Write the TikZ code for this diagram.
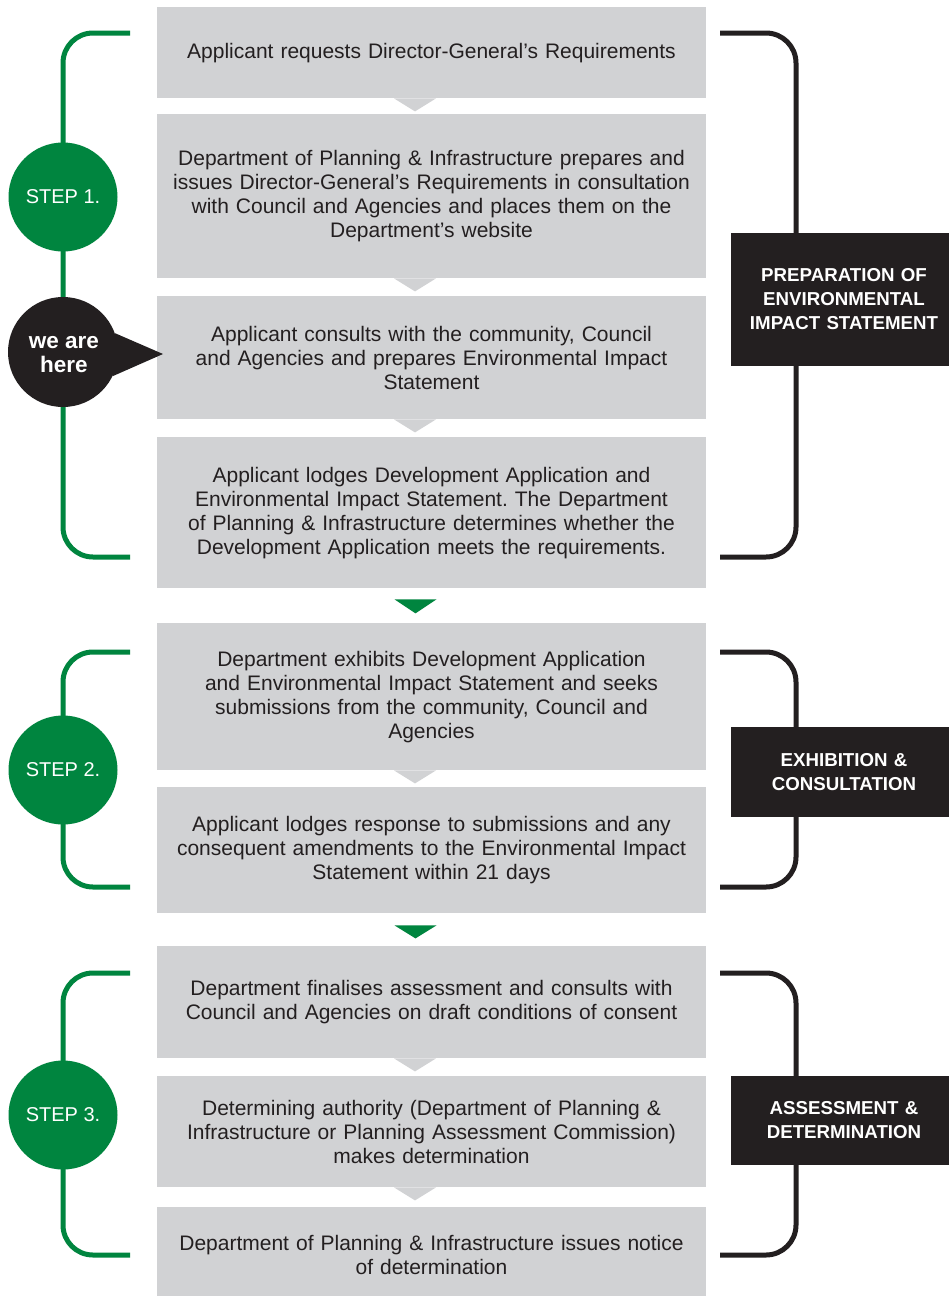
\documentclass[tikz,border=0pt]{standalone}
\usepackage{fontspec}
\setmainfont{Liberation Sans}
\frenchspacing
\usetikzlibrary{calc}
\definecolor{boxgray}{HTML}{D1D2D4}
\definecolor{stepgreen}{HTML}{00853F}
\definecolor{inkdark}{HTML}{231F20}
\tikzset{
  box/.style={fill=boxgray, anchor=north, minimum width=549pt, text width=545pt, align=center,
    inner sep=0pt, text=inkdark, font=\fontsize{21}{24}\selectfont},
  stagebox/.style={fill=inkdark, minimum width=226pt, text width=218pt, align=center,
    inner sep=0pt, text=white, font=\fontsize{18.7}{24}\selectfont\bfseries},
  stepcircle/.style={circle, fill=stepgreen, minimum size=109pt, inner sep=0pt, text=white,
    font=\fontsize{20}{22}\selectfont},
  greenbracket/.style={draw=stepgreen, line width=5pt, rounded corners=30pt},
  darkbracket/.style={draw=inkdark, line width=5pt, rounded corners=30pt},
  notch/.style={fill=boxgray},
  greentri/.style={fill=stepgreen},
}
\begin{document}
\begin{tikzpicture}[x=1pt,y=-1pt]
\clip (0,0) rectangle (949,1296);
\fill[white] (0,0) rectangle (949,1296);

% brackets
\coordinate (g1a) at (130,33);  \coordinate (g1b) at (130,557);
\coordinate (g2a) at (130,652); \coordinate (g2b) at (130,887);
\coordinate (g3a) at (130,973); \coordinate (g3b) at (130,1255);
\draw[greenbracket] (g1a) -| ($(g1b)+(-67,0)$) -- (g1b);
\draw[greenbracket] (g2a) -| ($(g2b)+(-67,0)$) -- (g2b);
\draw[greenbracket] (g3a) -| ($(g3b)+(-67,0)$) -- (g3b);
\coordinate (r1a) at (720,33);  \coordinate (r1b) at (720,557);
\coordinate (r2a) at (720,652); \coordinate (r2b) at (720,887);
\coordinate (r3a) at (720,973); \coordinate (r3b) at (720,1255);
\draw[darkbracket] (r1a) -| ($(r1b)+(76,0)$) -- (r1b);
\draw[darkbracket] (r2a) -| ($(r2b)+(76,0)$) -- (r2b);
\draw[darkbracket] (r3a) -| ($(r3b)+(76,0)$) -- (r3b);

% boxes
\node[box, minimum height=91pt] (b1) at (431.5,7) {Applicant requests Director-General’s Requirements};
\node[box, minimum height=164pt] (b2) at (431.5,114) {Department of Planning \& Infrastructure prepares and\\ issues Director-General’s Requirements in consultation\\ with Council and Agencies and places them on the\\ Department’s website};
\node[box, minimum height=123pt] (b3) at (431.5,296) {Applicant consults with the community, Council\\ and Agencies and prepares Environmental Impact\\ Statement};
\node[box, minimum height=151pt] (b4) at (431.5,437) {Applicant lodges Development Application and\\ Environmental Impact Statement. The Department\\ of Planning \& Infrastructure determines whether the\\ Development Application meets the requirements.};
\node[box, minimum height=147pt] (b5) at (431.5,623) {Department exhibits Development Application\\ and Environmental Impact Statement and seeks\\ submissions from the community, Council and\\ Agencies};
\node[box, minimum height=126pt] (b6) at (431.5,787) {Applicant lodges response to submissions and any\\ consequent amendments to the Environmental Impact\\ Statement within 21 days};
\node[box, minimum height=112pt] (b7) at (431.5,946) {Department finalises assessment and consults with\\ Council and Agencies on draft conditions of consent};
\node[box, minimum height=111pt] (b8) at (431.5,1076) {Determining authority (Department of Planning \&\\ Infrastructure or Planning Assessment Commission)\\ makes determination};
\node[box, minimum height=96pt] (b9) at (431.5,1207) {Department of Planning \& Infrastructure issues notice\\ of determination};

% notches (gray pointers)
\foreach \u in {b1,b2,b3,b5,b7,b8}{
  \fill[notch] ([xshift=-37.5pt]\u.south) -- ([xshift=4.5pt]\u.south) -- ([xshift=-16.5pt,yshift=-13pt]\u.south) -- cycle;
}
% green arrows between stages
\fill[greentri] ([xshift=-37pt,yshift=-11pt]b4.south) -- ([xshift=5pt,yshift=-11pt]b4.south) -- ([xshift=-16pt,yshift=-25pt]b4.south) -- cycle;
\fill[greentri] ([xshift=-37pt,yshift=-12pt]b6.south) -- ([xshift=5pt,yshift=-12pt]b6.south) -- ([xshift=-16pt,yshift=-25pt]b6.south) -- cycle;

% stage labels
\node[stagebox, minimum height=133pt] (s1) at (844,299.5) {PREPARATION OF\\ ENVIRONMENTAL\\ IMPACT STATEMENT};
\node[stagebox, minimum height=90pt] (s2) at (844,772) {EXHIBITION \&\\ CONSULTATION};
\node[stagebox, minimum height=89pt] (s3) at (844,1120.5) {ASSESSMENT \&\\ DETERMINATION};

% step circles
\node[stepcircle] (c1) at (63,197) {STEP 1.};
\node[stepcircle] (c2) at (63,770) {STEP 2.};
\node[stepcircle] (c3) at (63,1115) {STEP 3.};

% we are here
\node[circle, fill=inkdark, minimum size=110pt, inner sep=0pt] (wah) at (63,352) {};
\node[text=white, align=center, inner sep=0pt, font=\fontsize{22.5}{24}\selectfont\bfseries]
  (wahtext) at ([xshift=1pt,yshift=-3pt]wah.center) {we are\\ here};
\coordinate (tip) at (163,354);
\fill[inkdark] (wah.20) -- (tip) -- (wah.-26) -- cycle;
\end{tikzpicture}
\end{document}
